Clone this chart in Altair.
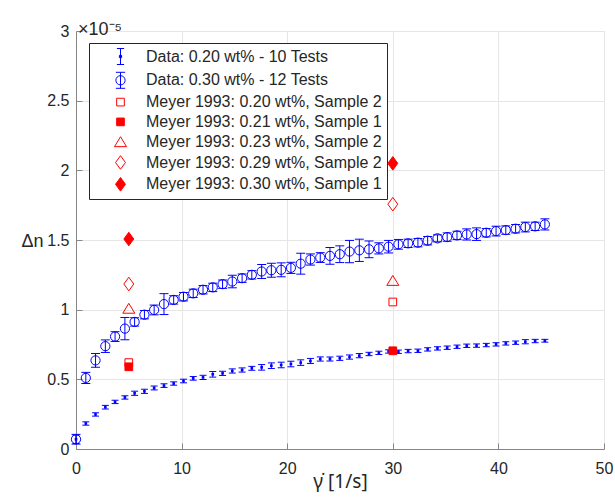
import altair as alt
import pandas as pd

# ---------------- data ----------------
gamma = [0, 0.93, 1.85, 2.78, 3.7, 4.63, 5.55, 6.48, 7.4, 8.33, 9.25, 10.18,
         11.1, 12.03, 12.95, 13.88, 14.8, 15.73, 16.65, 17.58, 18.5, 19.43,
         20.35, 21.28, 22.2, 23.13, 24.05, 24.98, 25.9, 26.83, 27.75, 28.68,
         29.6, 30.53, 31.45, 32.38, 33.3, 34.23, 35.15, 36.08, 37.0, 37.93,
         38.85, 39.78, 40.7, 41.63, 42.55, 43.48, 44.4]

dn_020 = [0.07, 0.183, 0.248, 0.30, 0.338, 0.37, 0.40, 0.414, 0.438, 0.455,
          0.47, 0.488, 0.507, 0.514, 0.536, 0.543, 0.56, 0.567, 0.579, 0.586,
          0.598, 0.603, 0.61, 0.62, 0.632, 0.646, 0.646, 0.651, 0.66, 0.67,
          0.682, 0.69, 0.70, 0.698, 0.703, 0.705, 0.715, 0.722, 0.727, 0.734,
          0.741, 0.742, 0.746, 0.751, 0.758, 0.763, 0.77, 0.775, 0.777]
err_020 = [0.03, 0.012, 0.012, 0.013, 0.012, 0.012, 0.015, 0.015, 0.014, 0.013,
           0.012, 0.013, 0.013, 0.015, 0.02, 0.015, 0.015, 0.015, 0.014, 0.02,
           0.02, 0.02, 0.02, 0.02, 0.018, 0.015, 0.015, 0.015, 0.015, 0.015,
           0.012, 0.012, 0.012, 0.012, 0.012, 0.012, 0.012, 0.012, 0.012, 0.012,
           0.012, 0.012, 0.012, 0.012, 0.012, 0.012, 0.015, 0.012, 0.01]

dn_030 = [0.07, 0.51, 0.636, 0.738, 0.807, 0.864, 0.912, 0.964, 0.998, 1.04,
          1.07, 1.093, 1.117, 1.143, 1.16, 1.183, 1.202, 1.226, 1.25, 1.274,
          1.283, 1.286, 1.30, 1.33, 1.36, 1.374, 1.386, 1.398, 1.417, 1.426,
          1.433, 1.44, 1.452, 1.469, 1.476, 1.481, 1.495, 1.512, 1.521, 1.533,
          1.54, 1.542, 1.552, 1.564, 1.571, 1.581, 1.593, 1.598, 1.612]
err_030 = [0.035, 0.04, 0.05, 0.045, 0.035, 0.08, 0.03, 0.03, 0.035, 0.075,
           0.03, 0.03, 0.03, 0.03, 0.03, 0.03, 0.045, 0.03, 0.03, 0.05,
           0.05, 0.05, 0.04, 0.075, 0.04, 0.035, 0.06, 0.06, 0.08, 0.08,
           0.06, 0.04, 0.045, 0.035, 0.03, 0.03, 0.03, 0.025, 0.03, 0.03,
           0.04, 0.045, 0.03, 0.035, 0.03, 0.03, 0.035, 0.03, 0.04]

meyer_x = [5, 30]
meyer_020_s2 = [0.62, 1.055]
meyer_021_s1 = [0.59, 0.705]
meyer_023_s2 = [1.01, 1.21]
meyer_029_s2 = [1.184, 1.757]
meyer_030_s1 = [1.507, 2.05]

series_labels = [
    "Data: 0.20 wt% - 10 Tests",
    "Data: 0.30 wt% - 12 Tests",
    "Meyer 1993: 0.20 wt%, Sample 2",
    "Meyer 1993: 0.21 wt%, Sample 1",
    "Meyer 1993: 0.23 wt%, Sample 2",
    "Meyer 1993: 0.29 wt%, Sample 2",
    "Meyer 1993: 0.30 wt%, Sample 1",
]

x_ticks = [0, 10, 20, 30, 40, 50]
y_ticks = [0, 0.5, 1, 1.5, 2, 2.5, 3]

# ---------------- styling ----------------
BLUE = "#0000ff"
RED = "#ff0000"
TXT = "#262626"
AXC = "#868686"
GRID = "#e6e6e6"
FONT = "Liberation Sans"

P_ERR_DOT = "M0,-1V1M-0.45,-1H0.45M-0.45,1H0.45M-0.14,-0.14H0.14V0.14H-0.14Z"
P_ERR_CIRC = ("M0,-1V1M-0.58,-1H0.58M-0.58,1H0.58"
              "M0.58,0A0.58,0.58,0,1,1,-0.58,0A0.58,0.58,0,1,1,0.58,0Z")
P_SQ = "M-0.48,-0.48H0.48V0.48H-0.48Z"
P_TRI = "M0,-0.62L0.75,0.62L-0.75,0.62Z"
P_DIA = "M0,-0.85L0.62,0L0,0.85L-0.62,0Z"

shape_range = [P_ERR_DOT, P_ERR_CIRC, P_SQ, P_SQ, P_TRI, P_DIA, P_DIA]
stroke_range = [BLUE, BLUE, RED, RED, RED, RED, RED]
fill_range = [BLUE, "transparent", "transparent", RED, "transparent", "transparent", RED]

# ---------------- tables ----------------
df_lo = pd.DataFrame({"g": gamma, "dn": dn_020, "err": err_020})
df_lo["lo"] = df_lo["dn"] - df_lo["err"]
df_lo["hi"] = df_lo["dn"] + df_lo["err"]
df_hi = pd.DataFrame({"g": gamma, "dn": dn_030, "err": err_030})
df_hi["lo"] = df_hi["dn"] - df_hi["err"]
df_hi["hi"] = df_hi["dn"] + df_hi["err"]

meyer_vals = [meyer_020_s2, meyer_021_s1, meyer_023_s2, meyer_029_s2, meyer_030_s1]
rows = []
for lab, vals in zip(series_labels[2:], meyer_vals):
    for xv, yv in zip(meyer_x, vals):
        rows.append({"series": lab, "g": xv, "dn": yv})
df_m = pd.DataFrame(rows)

xs = alt.Scale(domain=[0, 50], nice=False, zero=False)
ys = alt.Scale(domain=[0, 3], nice=False, zero=False)

main_x_axis = alt.Axis(values=x_ticks, grid=True, gridColor=GRID, domain=True,
                       domainColor=AXC, ticks=False, tickSize=0, labelPadding=11,
                       labelFontSize=16, labelColor=TXT, labelFont=FONT,
                       labelFlush=False, title="γ̇ [1/s]", titleFontSize=19,
                       titleFontWeight="normal", titleColor=TXT, titleFont="Noto Sans",
                       titleX=264, titleY=38, titleBaseline="alphabetic",
                       titleAlign="center")
main_y_axis = alt.Axis(values=y_ticks, format=".1~f", grid=True, gridColor=GRID,
                       domain=True, domainColor=AXC, ticks=False, tickSize=0,
                       labelPadding=7, labelFontSize=16, labelColor=TXT,
                       labelFont=FONT, title="Δn", titleFontSize=18,
                       titleFontWeight="normal", titleColor=TXT, titleFont=FONT,
                       titleAngle=0, titleX=-44, titleY=210,
                       titleBaseline="middle", titleAlign="center")
tick_x_axis = alt.Axis(values=x_ticks, orient="bottom", offset=-6, domain=False,
                       labels=False, grid=False, ticks=True, tickSize=6,
                       tickColor=AXC, title=None)
tick_y_axis = alt.Axis(values=y_ticks, orient="left", offset=-6, domain=False,
                       labels=False, grid=False, ticks=True, tickSize=6,
                       tickColor=AXC, title=None)

# axes carrier (invisible)
axes_layer = alt.Chart(df_lo).mark_point(opacity=0).encode(
    x=alt.X("g:Q", scale=xs, axis=main_x_axis),
    y=alt.Y("dn:Q", scale=ys, axis=main_y_axis),
)
ticks_layer = alt.Chart(df_lo).mark_point(opacity=0).encode(
    x=alt.X("g:Q", scale=xs, axis=tick_x_axis),
    y=alt.Y("dn:Q", scale=ys, axis=tick_y_axis),
)


def errorbars(df, cap):
    bars = alt.Chart(df).mark_rule(color=BLUE, strokeWidth=1, opacity=1).encode(
        x=alt.X("g:Q", scale=xs, axis=None),
        y=alt.Y("lo:Q", scale=ys, axis=None),
        y2="hi:Q",
    )
    cap_lo = alt.Chart(df).mark_tick(color=BLUE, orient="horizontal", size=cap,
                                     thickness=1, opacity=1).encode(
        x=alt.X("g:Q", scale=xs, axis=None),
        y=alt.Y("lo:Q", scale=ys, axis=None),
    )
    cap_hi = alt.Chart(df).mark_tick(color=BLUE, orient="horizontal", size=cap,
                                     thickness=1, opacity=1).encode(
        x=alt.X("g:Q", scale=xs, axis=None),
        y=alt.Y("hi:Q", scale=ys, axis=None),
    )
    return [bars, cap_lo, cap_hi]


lo_pts = alt.Chart(df_lo).mark_square(color=BLUE, size=7, opacity=1).encode(
    x=alt.X("g:Q", scale=xs, axis=None),
    y=alt.Y("dn:Q", scale=ys, axis=None),
)
hi_pts = alt.Chart(df_hi).mark_point(shape="circle", color=BLUE, filled=False,
                                     size=85, strokeWidth=1, opacity=1).encode(
    x=alt.X("g:Q", scale=xs, axis=None),
    y=alt.Y("dn:Q", scale=ys, axis=None),
)

legend = alt.Legend(title=None, orient="none", legendX=13, legendY=12,
                    direction="vertical", fillColor="white", strokeColor=TXT,
                    padding=5, symbolSize=256, symbolStrokeWidth=1,
                    symbolOffset=18, labelOffset=17, labelFontSize=16,
                    labelFont=FONT, labelColor=TXT, labelLimit=400,
                    rowPadding=2.8, cornerRadius=0, symbolOpacity=1)

meyer = alt.Chart(df_m).mark_point(size=256, strokeWidth=1, opacity=1).encode(
    x=alt.X("g:Q", scale=xs, axis=None),
    y=alt.Y("dn:Q", scale=ys, axis=None),
    shape=alt.Shape("series:N", scale=alt.Scale(domain=series_labels, range=shape_range), legend=legend),
    stroke=alt.Stroke("series:N", scale=alt.Scale(domain=series_labels, range=stroke_range), legend=legend),
    fill=alt.Fill("series:N", scale=alt.Scale(domain=series_labels, range=fill_range), legend=legend),
)

layers = [axes_layer, ticks_layer] + errorbars(df_lo, 7) + [lo_pts] + \
    errorbars(df_hi, 9) + [hi_pts, meyer]

chart = alt.layer(*layers).resolve_axis(x="independent", y="independent").properties(
    width=528,
    height=418,
    autosize=alt.AutoSizeParams(type="none"),
    padding={"left": 76, "top": 31, "right": 11, "bottom": 49},
    title=alt.TitleParams(text="×10⁻⁵", anchor="start", frame="group",
                          fontSize=18, fontWeight="normal", color=TXT,
                          font=FONT, baseline="alphabetic", offset=4, dx=2, dy=34),
    background="white",
).configure_view(stroke=GRID, strokeWidth=1)

chart.save("out.html", embed_options={"renderer": "svg", "actions": False})
